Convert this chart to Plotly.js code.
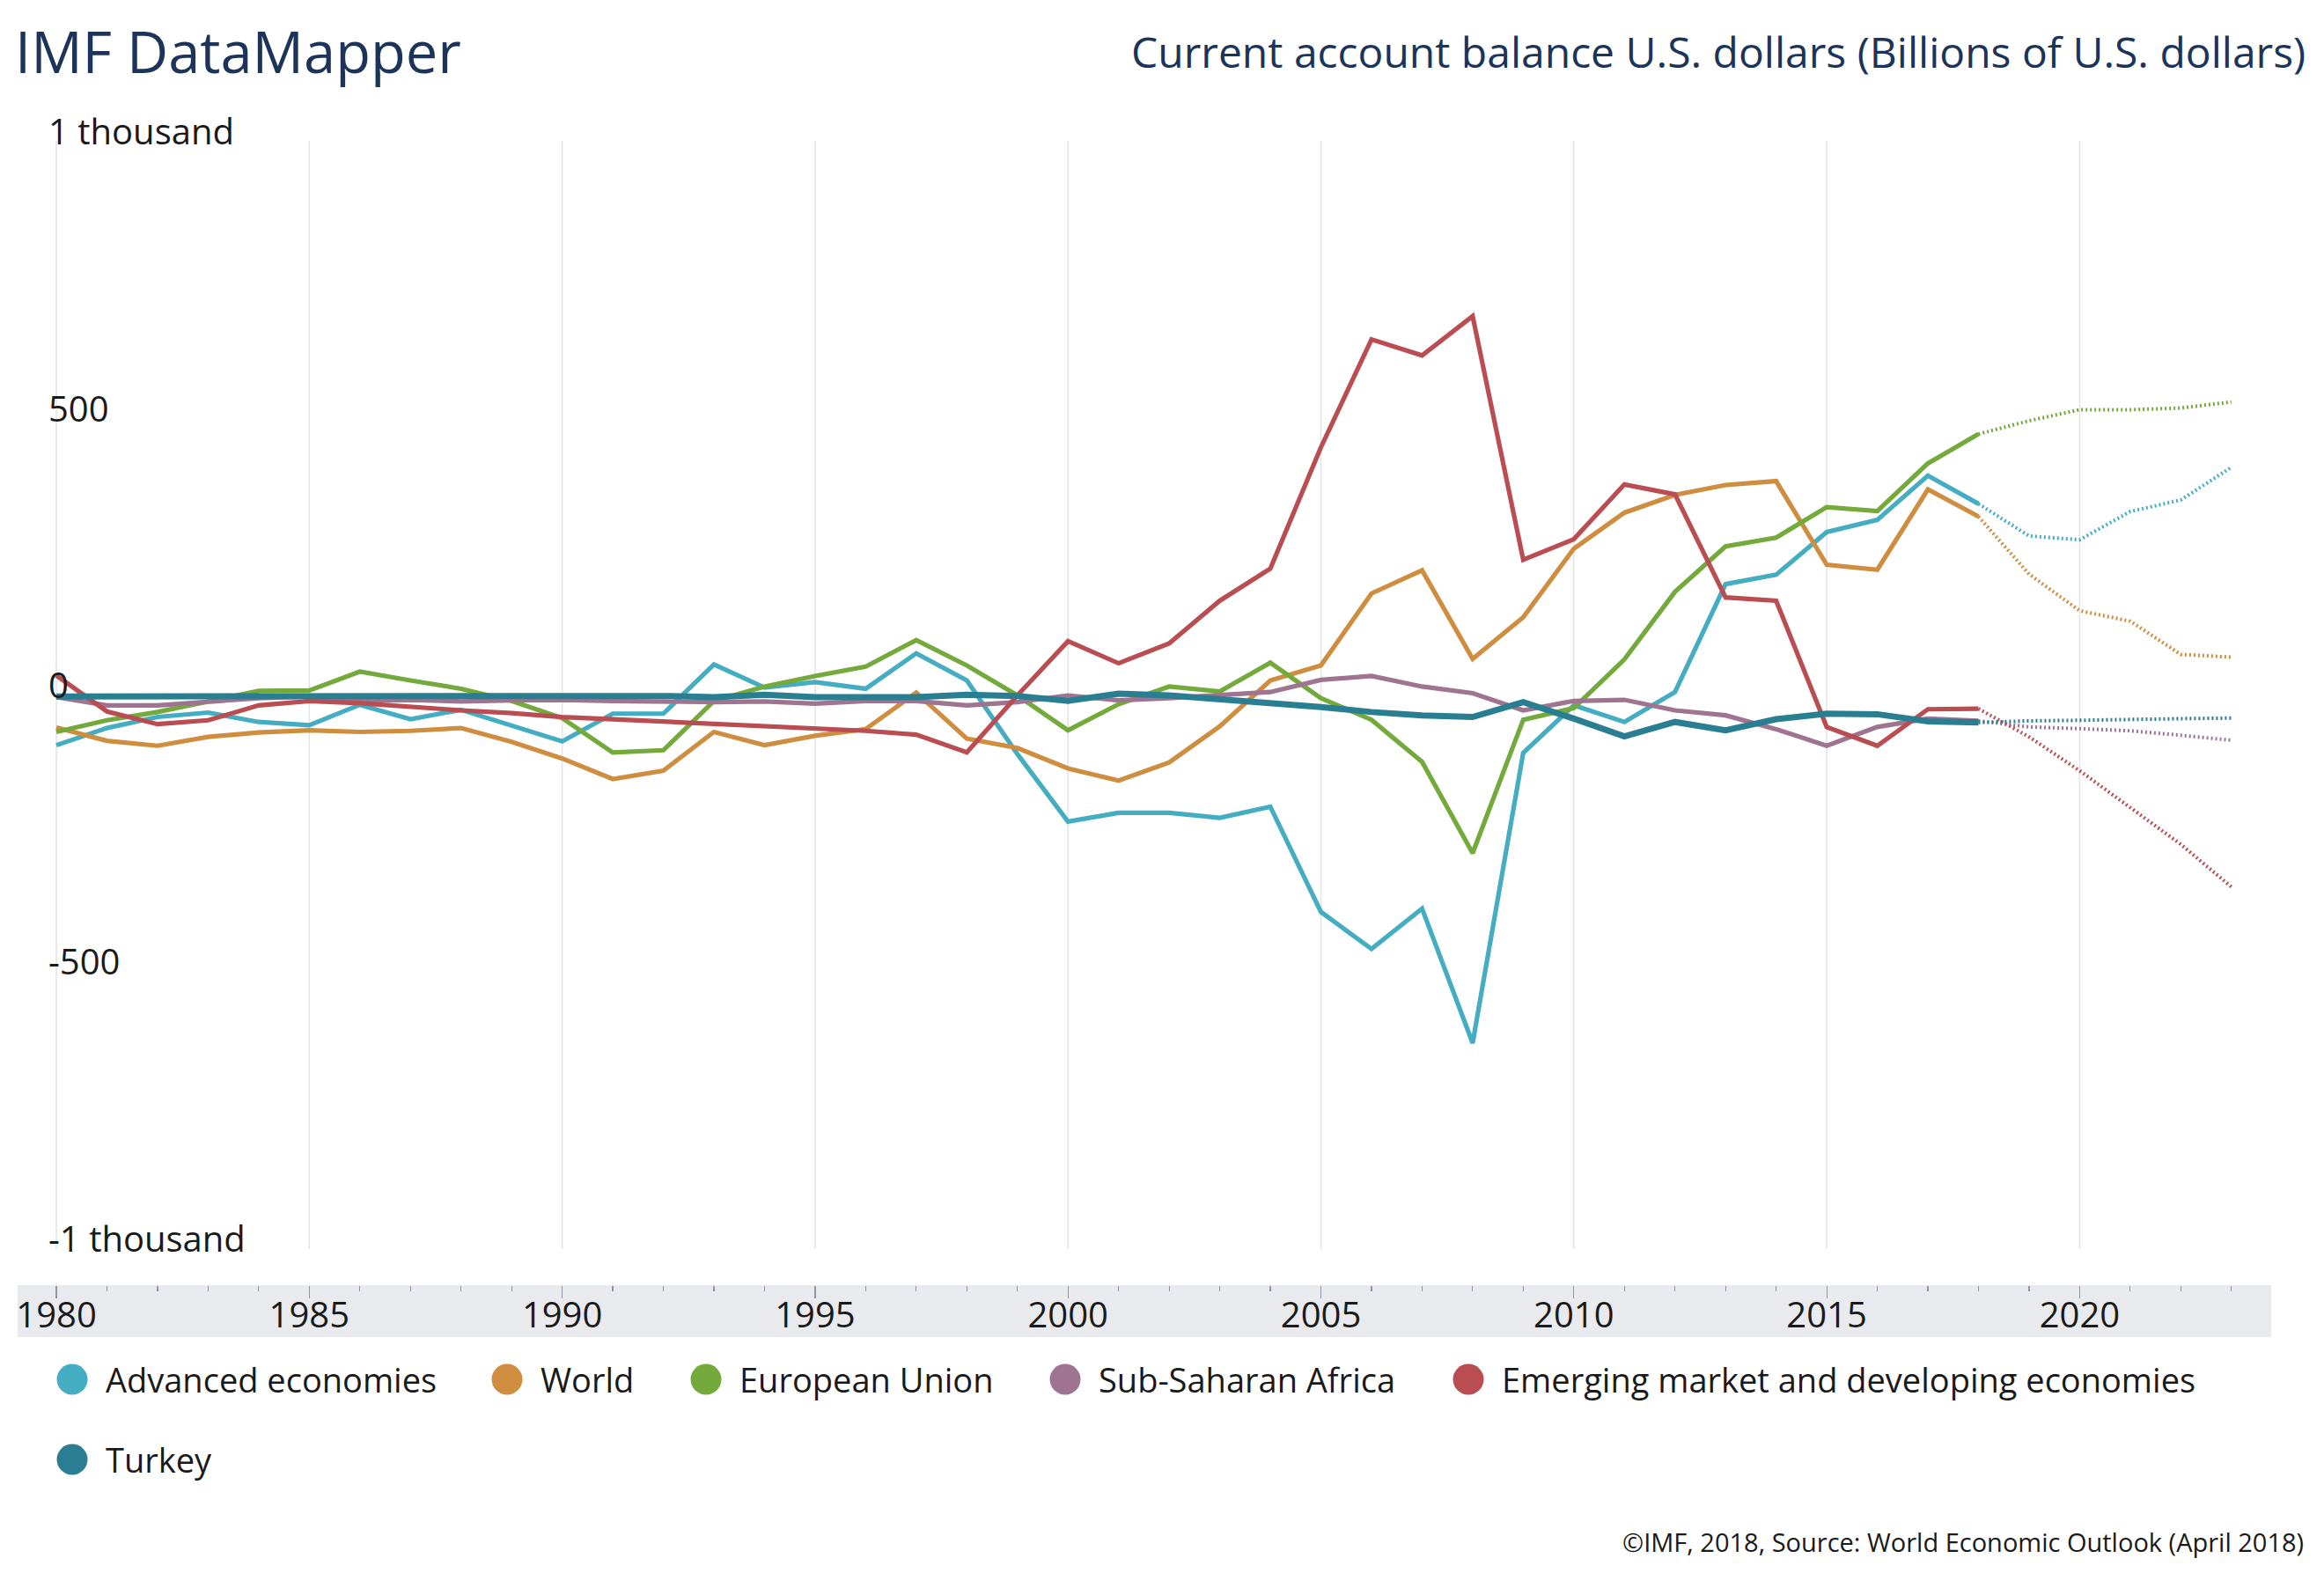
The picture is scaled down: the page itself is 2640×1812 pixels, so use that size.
<!DOCTYPE html>
<html><head><meta charset="utf-8">
<script src="https://cdn.plot.ly/plotly-3.0.1.min.js"></script>
<style>html,body{margin:0;padding:0;background:#fff}#chart{width:2640px;height:1812px}</style>
</head><body><div id="chart"></div>
<script>
// ---------------- DATA ----------------
const years = [1980,1981,1982,1983,1984,1985,1986,1987,1988,1989,1990,1991,1992,1993,1994,1995,1996,1997,1998,1999,
               2000,2001,2002,2003,2004,2005,2006,2007,2008,2009,2010,2011,2012,2013,2014,2015,2016,2017,2018];
const projYears = [2018,2019,2020,2021,2022,2023];

const seriesNames = ["Advanced economies","World","European Union","Sub-Saharan Africa","Emerging market and developing economies","Turkey"];

const advanced = [-90,-59,-39,-31,-48,-54,-17,-43,-26,-54,-83,-33,-33,56,14,24,12,76,27,-106,
                  -228,-212,-212,-221,-201,-391,-458,-385,-628,-104,-18,-48,6,201,218,295,317,397,346];
const advancedProj = [346,288,281,332,353,412];

const world = [-58,-82,-91,-75,-67,-63,-66,-64,-59,-84,-114,-151,-136,-66,-90,-73,-61,5,-78,-95,
               -132,-154,-121,-56,27,54,184,226,66,141,265,330,362,380,387,236,227,372,323];
const worldProj = [323,219,153,134,74,69];

const eu = [-66,-45,-30,-11,8,9,43,27,12,-10,-41,-103,-99,-10,16,35,52,100,54,0,
            -63,-16,16,7,59,-5,-44,-120,-285,-44,-23,65,187,269,285,340,333,419,472];
const euProj = [472,496,516,516,519,530];

const ssa = [-3,-18,-18,-11,-5,-2,-10,-8,-11,-9,-8,-10,-12,-12,-11,-15,-10,-10,-18,-12,
             0,-9,-5,0,6,28,35,16,4,-27,-10,-8,-27,-36,-61,-91,-57,-42,-46];
const ssaProj = [-46,-57,-60,-64,-72,-81];

const emde = [36,-29,-52,-45,-18,-10,-14,-21,-27,-32,-39,-43,-47,-51,-55,-61,-64,-71,-103,0,
              98,58,94,171,229,448,643,614,685,245,282,381,363,177,171,-57,-91,-25,-24];
const emdeProj = [-24,-75,-136,-203,-269,-346];

const turkey = [-2,-2,-1,-2,-1,-1,-1,-1,-1,-1,-2,0,-1,-3,1,-3,-2,-3,1,-1,
                -10,3,0,-7,-13,-21,-30,-36,-39,-12,-42,-74,-48,-63,-43,-33,-34,-47,-49];
const turkeyProj = [-49,-46,-45,-43,-42,-41];

const yTickVals = [1000, 500, 0, -500, -1000];
const yTickText = ["1 thousand", "500", "0", "-500", "-1 thousand"];
const xGridYears = [1980,1985,1990,1995,2000,2005,2010,2015,2020];

const titleText = "IMF DataMapper";
const subtitleText = "Current account balance U.S. dollars (Billions of U.S. dollars)";
const footerText = "©IMF, 2018, Source: World Economic Outlook (April 2018)";

// ---------------- STYLE ----------------
const colors = ["#44adc1","#cf8d40","#74a93b","#9e7490","#b94d52","#2a7e92"];
const widths = [5.2,5.2,5.2,5.2,5.2,7];
const actualSeries = [advanced, world, eu, ssa, emde, turkey];
const projSeries = [advancedProj, worldProj, euProj, ssaProj, emdeProj, turkeyProj];

const W = 2640, H = 1812;
const M = {l:20, r:60, t:160, b:352};
const plotW = W - M.l - M.r, plotH = H - M.t - M.b;
const px2paperX = px => (px - M.l) / plotW;
const px2paperY = py => (H - M.b - py) / plotH;

const FONT = "Open Sans, Noto Sans, sans-serif";

const traces = [];
for (let i = 0; i < seriesNames.length; i++) {
  traces.push({
    type: "scatter", mode: "lines", x: years, y: actualSeries[i], name: seriesNames[i],
    line: {color: colors[i], width: widths[i]}, showlegend: false, hoverinfo: "skip"
  });
}
for (let i = 0; i < seriesNames.length; i++) {
  traces.push({
    type: "scatter", mode: "lines", x: projYears, y: projSeries[i], name: seriesNames[i] + " (projection)",
    line: {color: colors[i], width: 4, dash: "2px,3px"}, showlegend: false, hoverinfo: "skip"
  });
}
// keep Turkey on top
const order = [0,1,2,3,4,6,7,8,9,10,11,5];
const dataOrdered = order.map(k => traces[k]);

const shapes = [];
// axis band
shapes.push({type:"rect", xref:"paper", yref:"paper", x0:0, x1:1, y0:px2paperY(1519), y1:px2paperY(1460),
             fillcolor:"#e8eaed", line:{width:0}, layer:"below"});
// vertical gridlines
xGridYears.forEach(yr => shapes.push({type:"line", xref:"x", yref:"y", x0:yr, x1:yr, y0:-1000, y1:1001.6,
             line:{color:"#e4e4e4", width:1.5}, layer:"below"}));

const annotations = [];
// y tick labels
yTickVals.forEach((v, i) => annotations.push({
  xref:"paper", yref:"y", x:px2paperX(53), y:v, xanchor:"left", yanchor:"bottom", yshift:-17,
  text:yTickText[i], showarrow:false, font:{family:FONT, size:40, color:"#1a1a1a"}
}));
// subtitle (right)
annotations.push({xref:"paper", yref:"paper", x:px2paperX(2621), y:px2paperY(59), xanchor:"right", yanchor:"middle",
  text:subtitleText, showarrow:false, font:{family:FONT, size:48, color:"#1c3459"}});
// footer
annotations.push({xref:"paper", yref:"paper", x:px2paperX(2619), y:px2paperY(1751), xanchor:"right", yanchor:"middle",
  text:footerText, showarrow:false, font:{family:FONT, size:29, color:"#1a1a1a"}});

// custom legend (big circle markers)
const legendPos = [[82,1567],[576,1567],[802,1567],[1210,1567],[1668,1567],[82,1658]];
seriesNames.forEach((nm, i) => {
  const [cx, cy] = legendPos[i];
  shapes.push({type:"circle", xref:"paper", yref:"paper", xsizemode:"pixel", ysizemode:"pixel",
    xanchor:px2paperX(cx), yanchor:px2paperY(cy), x0:-17.5, x1:17.5, y0:-17.5, y1:17.5,
    fillcolor:colors[i], line:{width:0}});
  annotations.push({xref:"paper", yref:"paper", x:px2paperX(cx+36), y:px2paperY(cy), xanchor:"left", yanchor:"middle",
    text:nm, showarrow:false, font:{family:FONT, size:38, color:"#1a1a1a"}});
});

const layout = {
  width: W, height: H,
  margin: M,
  paper_bgcolor: "#ffffff", plot_bgcolor: "rgba(0,0,0,0)",
  font: {family: FONT, color: "#1a1a1a"},
  title: {text: titleText, font: {family: FONT, size: 65, color: "#1c3459"},
          xref: "container", yref: "container", x: 17/W, xanchor: "left", y: 1 - 60/H, yanchor: "middle"},
  showlegend: false,
  xaxis: {range: [1979.234, 2023.787], showgrid: false, zeroline: false, showline: false,
          tickmode: "linear", tick0: 1980, dtick: 5, ticks: "outside", ticklen: 14, tickwidth: 1.2, tickcolor: "#8e97a8",
          ticklabelstandoff: -15,
          minor: {ticks: "outside", ticklen: 6, tickwidth: 1.2, tickcolor: "#8e97a8", dtick: 1, tick0: 1980, showgrid: false},
          tickfont: {family: FONT, size: 40, color: "#1a1a1a"}, automargin: false, fixedrange: true},
  yaxis: {range: [-1065.2, 1001.6], showgrid: false, zeroline: false, showline: false, showticklabels: false,
          ticks: "", automargin: false, fixedrange: true},
  shapes: shapes,
  annotations: annotations
};

Plotly.newPlot("chart", dataOrdered, layout, {staticPlot: true, displayModeBar: false});
</script>
</body></html>
